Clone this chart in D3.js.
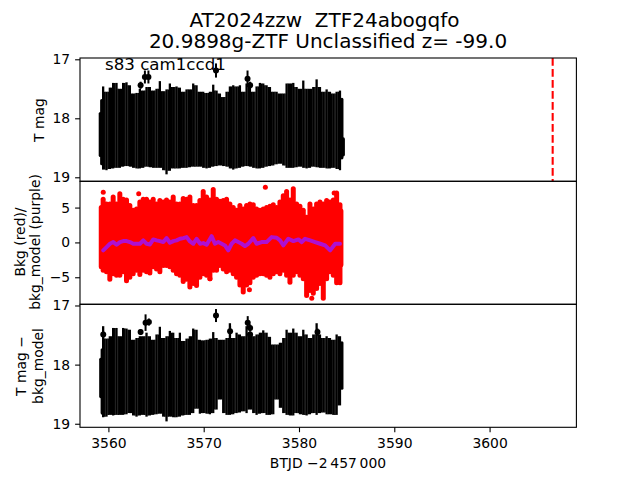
<!DOCTYPE html>
<html><head><meta charset="utf-8">
<script src="https://d3js.org/d3.v7.min.js"></script>
<style>html,body{margin:0;padding:0;background:#fff}svg{display:block}text{font-family:"DejaVu Sans";fill:#000;white-space:pre}</style>
</head><body><svg id="c" width="640" height="480"></svg>
<script>
const titleLines=["AT2024zzw  ZTF24abogqfo","20.9898g-ZTF Unclassified z= -99.0"];
const annotation="s83 cam1ccd1";
const xTicks=[3560,3570,3580,3590,3600];
const magTicks=[17,18,19];
const bkgTicks=[5,0,-5];
const xLabel="BTJD \u22122\u2009457\u2009000";
const markerTime=3606.62;

const times=[3559.45,3559.80,3560.15,3560.50,3560.85,3561.20,3561.55,3561.90,3562.25,3562.60,3562.95,3563.30,3563.65,3564.00,3564.35,3564.70,3565.05,3565.40,3565.75,3566.10,3566.45,3566.80,3567.15,3567.50,3567.85,3568.20,3568.55,3568.90,3569.25,3569.60,3569.95,3570.30,3570.65,3571.00,3571.35,3571.70,3572.05,3572.40,3572.75,3573.10,3573.45,3573.80,3574.15,3574.50,3574.85,3575.20,3575.55,3575.90,3576.25,3576.60,3576.95,3577.30,3577.65,3578.00,3578.35,3578.70,3579.05,3579.40,3579.75,3580.10,3580.45,3580.80,3581.15,3581.50,3581.85,3582.20,3582.55,3582.90,3583.25,3583.60,3583.95,3584.30];
const magUpper=[17.46,17.55,17.48,17.40,17.40,17.50,17.40,17.39,17.44,17.58,17.57,17.50,17.53,17.47,17.47,17.53,17.50,17.37,17.54,17.51,17.41,17.47,17.46,17.48,17.55,17.51,17.51,17.41,17.44,17.55,17.55,17.57,17.55,17.43,17.53,17.58,17.64,17.55,17.46,17.44,17.46,17.44,17.55,17.41,17.47,17.55,17.46,17.40,17.41,17.44,17.47,17.55,17.55,17.58,17.58,17.41,17.41,17.40,17.47,17.50,17.36,17.50,17.50,17.47,17.34,17.47,17.55,17.51,17.55,17.58,17.55,17.53];
const magLower=[18.87,18.88,18.86,18.85,18.84,18.84,18.82,18.81,18.82,18.84,18.85,18.85,18.84,18.82,18.83,18.84,18.84,18.84,18.88,18.95,18.89,18.85,18.85,18.85,18.84,18.84,18.83,18.82,18.82,18.82,18.84,18.85,18.84,18.82,18.81,18.80,18.81,18.82,18.85,18.87,18.85,18.84,18.82,18.81,18.82,18.84,18.85,18.85,18.84,18.82,18.81,18.80,18.78,18.77,18.80,18.84,18.84,18.84,18.83,18.82,18.84,18.85,18.84,18.82,18.83,18.84,18.84,18.85,18.85,18.84,18.86,18.88];
const edgeTimes=[3559.15,3559.30,3584.50,3584.65];
const edgeUpper=[17.92,17.70,17.68,18.35];
const edgeLower=[18.63,18.77,18.67,18.62];
const flareTimes=[3563.38,3563.83,3564.20,3571.29,3574.60,3574.87];
const flareMags=[17.44,17.30,17.30,17.19,17.33,17.44];
const flareErrs=[0.06,0.11,0.11,0.12,0.14,0.06];

const detUpper=[17.35,17.56,17.52,17.38,17.38,17.52,17.38,17.39,17.41,17.58,17.55,17.52,17.52,17.46,17.52,17.58,17.49,17.36,17.55,17.52,17.43,17.46,17.55,17.46,17.60,17.56,17.52,17.39,17.41,17.58,17.59,17.58,17.56,17.45,17.55,17.58,17.58,17.55,17.30,17.55,17.46,17.49,17.52,17.35,17.46,17.52,17.49,17.46,17.42,17.46,17.53,17.66,17.66,17.63,17.55,17.41,17.46,17.39,17.46,17.52,17.41,17.49,17.55,17.49,17.30,17.49,17.55,17.52,17.55,17.58,17.49,17.52];
const detLower=[18.89,18.88,18.85,18.86,18.85,18.85,18.85,18.84,18.82,18.86,18.88,18.86,18.85,18.88,18.86,18.85,18.84,18.83,18.88,18.96,18.88,18.89,18.89,18.88,18.86,18.85,18.85,18.82,18.745,18.83,18.82,18.83,18.84,18.82,18.76,18.59,18.82,18.85,18.85,18.84,18.82,18.81,18.79,18.82,18.76,18.82,18.85,18.83,18.82,18.85,18.85,18.84,18.59,18.73,18.82,18.85,18.86,18.86,18.82,18.84,18.85,18.86,18.84,18.82,18.85,18.82,18.81,18.84,18.84,18.85,18.85,18.69];
const detEdgeTimes=[3559.20,3559.35,3584.50];
const detEdgeUpper=[17.91,17.75,17.63];
const detEdgeLower=[18.54,18.82,18.40];
const detFlareTimes=[3559.46,3563.38,3563.90,3564.25,3571.29,3572.77,3574.62,3574.87,3574.87,3581.94];
const detFlareMags=[17.49,17.45,17.29,17.28,17.17,17.435,17.29,17.38,17.49,17.45];
const detFlareErrs=[0.05,0.05,0.14,0.06,0.11,0.09,0.11,0.06,0.05,0.06];

const bkgUpper=[6.2,5.5,5.5,6.5,5.5,7.0,6.2,6.1,5.3,4.6,4.8,5.8,6.2,6.2,5.8,6.2,5.5,6.0,5.8,6.1,5.8,6.5,5.5,5.5,6.3,6.2,6.5,5.3,5.3,6.0,7.3,6.5,6.1,7.6,6.2,5.9,6.0,6.2,5.5,5.0,4.6,5.3,4.8,5.3,5.5,5.4,4.8,4.6,4.8,5.0,5.2,5.4,5.0,5.8,6.7,7.3,6.1,7.7,5.5,5.2,4.6,3.6,5.5,4.8,5.5,5.8,5.5,6.0,5.8,6.1,7.1,5.4];
const bkgLower=[-4.0,-4.2,-5.3,-4.5,-4.7,-4.7,-4.2,-5.5,-5.0,-4.5,-4.0,-4.6,-4.0,-4.2,-4.4,-3.5,-3.8,-4.2,-3.3,-3.3,-3.5,-4.0,-4.5,-4.7,-5.6,-5.3,-6.4,-5.9,-6.2,-5.0,-4.5,-4.7,-5.2,-4.0,-4.0,-3.3,-3.8,-4.2,-4.0,-4.5,-5.0,-6.1,-7.1,-6.1,-5.8,-5.0,-4.7,-4.5,-4.5,-4.7,-5.0,-4.5,-4.2,-4.5,-4.0,-4.7,-5.7,-4.7,-4.2,-4.7,-5.2,-7.6,-6.9,-7.3,-6.6,-5.9,-8.0,-5.2,-4.2,-4.7,-5.8,-5.8];
const bkgEdgeTimes=[3559.25,3584.40];
const bkgEdgeUpper=[5.0,4.5];
const bkgEdgeLower=[-3.5,-3.2];
const bkgDotTimes=[3576.47,3581.34,3582.50,3570.66,3574.80,3559.46,3563.18,3583.69];
const bkgDotValues=[7.9,-8.0,-5.8,-5.2,-6.8,7.2,7.0,7.1];
const modelTimes=[3559.46,3559.81,3560.16,3560.51,3560.86,3561.21,3561.56,3561.91,3562.26,3562.61,3562.96,3563.31,3563.66,3564.01,3564.36,3564.71,3565.06,3565.41,3565.76,3566.11,3566.46,3566.81,3567.16,3567.51,3567.86,3568.21,3568.56,3568.91,3569.26,3569.61,3569.96,3570.31,3570.83,3571.18,3571.53,3571.88,3572.23,3572.58,3572.93,3573.28,3573.63,3573.98,3574.33,3574.68,3575.20,3575.55,3576.08,3576.60,3577.13,3577.66,3578.01,3578.36,3578.88,3579.41,3579.94,3580.29,3580.64,3581.17,3581.69,3582.22,3582.74,3583.27,3583.80,3584.30];
const bkgModel=[-1.14,-0.67,-0.19,0.05,-0.33,0.05,0.19,0.19,0.05,-0.19,-0.19,-0.19,0.29,-0.19,-0.29,0.43,0.29,0.19,0.05,0.62,-0.05,0.19,0.29,0.52,0.62,0.76,0.14,-0.19,0.52,-0.19,-0.10,-0.33,0.90,-0.19,0.05,-0.19,-0.43,-1.14,-0.19,0.29,0.05,-0.19,-0.52,-0.19,0.62,-0.19,0.05,0.05,0.76,0.67,0.29,-0.43,0.52,0.19,0.43,0.05,0.52,0.29,0.05,-0.19,-0.43,-1.14,-0.19,-0.19];

const svg=d3.select("#c");
const L=80,R=576.4,P=[[58,181.3],[181.3,304.3],[304.3,427.3]];
const x=d3.scaleLinear().domain([3557.02,3609.11]).range([L,R]);
const yTop=d3.scaleLinear().domain([16.978,19.068]).range(P[0]);
const yMid=d3.scaleLinear().domain([8.77,-8.88]).range(P[1]);
const yBot=d3.scaleLinear().domain([16.98,19.06]).range(P[2]);

function rules(y,ts,up,lo,w,color,cap){
  svg.append("g").selectAll("line").data(ts).join("line")
    .attr("x1",d=>x(d)).attr("x2",d=>x(d))
    .attr("y1",(d,i)=>y(up[i])).attr("y2",(d,i)=>y(lo[i]))
    .attr("stroke",color).attr("stroke-width",w).attr("stroke-linecap",cap||"butt");
}
// solid mass of error bars: narrow spikes, with the slots between them closed up to the lower neighbour
function mass(y,up,lo){
  rules(y,times,up,lo,2.3,"#000");
  const mids=d3.pairs(times).map(p=>(p[0]+p[1])/2);
  const midUp=d3.pairs(up).map(p=>Math.max(p[0],p[1]));
  const midLo=d3.pairs(lo).map(p=>Math.min(p[0],p[1]));
  rules(y,mids,midUp,midLo,1.6,"#000");
}
function flares(y,ts,ms,es){
  const g=svg.append("g");
  g.selectAll("line").data(ts).join("line")
    .attr("x1",d=>x(d)).attr("x2",d=>x(d))
    .attr("y1",(d,i)=>y(ms[i]-es[i])).attr("y2",(d,i)=>y(ms[i]+es[i]))
    .attr("stroke","#000").attr("stroke-width",2);
  g.selectAll("circle").data(ts).join("circle")
    .attr("cx",d=>x(d)).attr("cy",(d,i)=>y(ms[i])).attr("r",3).attr("fill","#000");
}
// top panel
mass(yTop,magUpper,magLower);
rules(yTop,edgeTimes,edgeUpper,edgeLower,3.2,"#000","round");
flares(yTop,flareTimes,flareMags,flareErrs);
// middle panel
rules(yMid,times,bkgUpper,bkgLower,5,"#f00","round");
rules(yMid,bkgEdgeTimes,bkgEdgeUpper,bkgEdgeLower,5,"#f00","round");
svg.append("g").selectAll("circle").data(bkgDotTimes).join("circle")
  .attr("cx",d=>x(d)).attr("cy",(d,i)=>yMid(bkgDotValues[i])).attr("r",2.5).attr("fill","#f00");
const modelLine=d3.line().x((d,i)=>x(modelTimes[i])).y(d=>yMid(d));
svg.append("path").attr("d",modelLine(bkgModel)).attr("fill","none")
  .attr("stroke","#ae10d2").attr("stroke-width",4).attr("stroke-linejoin","round").attr("stroke-linecap","round");
// bottom panel
mass(yBot,detUpper,detLower);
rules(yBot,detEdgeTimes,detEdgeUpper,detEdgeLower,3.2,"#000","round");
flares(yBot,detFlareTimes,detFlareMags,detFlareErrs);
// marker
svg.append("line").attr("x1",x(markerTime)).attr("x2",x(markerTime))
  .attr("y1",P[0][0]).attr("y2",P[0][1]).attr("stroke","#f00").attr("stroke-width",2.08)
  .attr("stroke-dasharray","7.7 3.3");
// frames and axes
P.forEach(p=>svg.append("rect").attr("x",L).attr("y",p[0]).attr("width",R-L).attr("height",p[1]-p[0])
  .attr("fill","none").attr("stroke","#000").attr("stroke-width",1.1));
function yAxis(y,ticks){
  const g=svg.append("g").attr("transform",`translate(${L},0)`)
    .call(d3.axisLeft(y).tickValues(ticks).tickSize(4.9).tickPadding(4.9).tickFormat(d=>String(d).replace("-","\u2212")));
  g.select(".domain").remove();
  g.selectAll("line").attr("stroke","#000").attr("stroke-width",1.1);
  g.selectAll("text").attr("font-size",13.9).attr("font-family","DejaVu Sans").attr("fill","#000");
}
yAxis(yTop,magTicks);yAxis(yMid,bkgTicks);yAxis(yBot,magTicks);
const gx=svg.append("g").attr("transform",`translate(0,${P[2][1]})`)
  .call(d3.axisBottom(x).tickValues(xTicks).tickSize(4.9).tickPadding(5.9).tickFormat(d3.format("d")));
gx.select(".domain").remove();
gx.selectAll("line").attr("stroke","#000").attr("stroke-width",1.1);
gx.selectAll("text").attr("font-size",13.9).attr("font-family","DejaVu Sans").attr("fill","#000");
// text
function label(s,xp,yp,size,rot){
  const t=svg.append("text").text(s).attr("font-size",size).attr("text-anchor","middle");
  if(rot) t.attr("transform",`translate(${xp},${yp}) rotate(-90)`); else t.attr("x",xp).attr("y",yp);
}
label(titleLines[0],324.5,27,20);
label(titleLines[1],328,48,20);
svg.append("text").text(annotation).attr("x",105).attr("y",70).attr("font-size",16.67);
label("T mag",44,120,13.9,true);
label("Bkg (red)/",25,242,13.9,true);
label("bkg_model (purple)",40,242,13.9,true);
label("T mag \u2212",26,366,13.9,true);
label("bkg_model",43,366,13.9,true);
label(xLabel,328,468,13.9);
</script></body></html>
